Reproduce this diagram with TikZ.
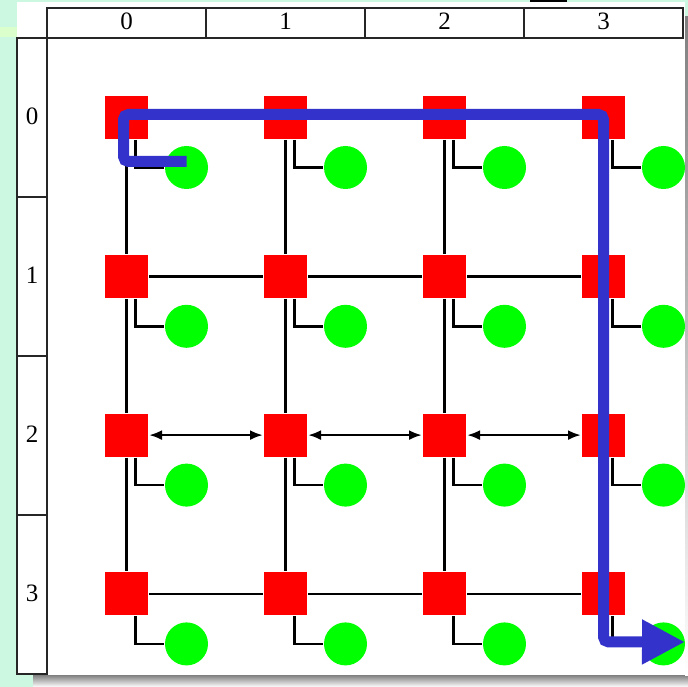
\documentclass[tikz,border=0pt]{standalone}
\usepackage{fontspec}
\setmainfont{Liberation Serif}
\usetikzlibrary{arrows.meta,calc}
\definecolor{mint}{RGB}{204,247,224}
\definecolor{lime}{RGB}{218,255,204}
\definecolor{shade}{RGB}{128,128,128}
\definecolor{rtred}{RGB}{255,0,0}
\definecolor{pegreen}{RGB}{0,255,0}
\definecolor{routeblue}{RGB}{51,51,204}
\tikzset{
  every picture/.style={x=1pt, y=-1pt, line width=2pt},
  router/.style={fill=rtred, inner sep=0pt, minimum size=43pt},
  core/.style={circle, fill=pegreen, inner sep=0pt, minimum size=43pt},
  link/.style={draw=black, line width=2.6pt},
  both/.style={link, {Latex[length=13pt,width=10pt]}-{Latex[length=13pt,width=10pt]}},
  route/.style={draw=routeblue, line width=11pt, rounded corners=5pt, -{Triangle[length=43pt,width=42pt]}},
  frame/.style={draw=black!85, line width=1.8pt},
  lbl/.style={font=\fontsize{25}{28}\selectfont, inner sep=0pt, anchor=base},
}

\begin{document}
\begin{tikzpicture}
  \useasboundingbox (0,0) rectangle (688,687);
  % slide background and shadow
  \fill[mint] (0,0) rectangle (688,687);
  \fill[lime] (0,27) rectangle (17,37);
  \fill[black] (530,0) rectangle (567,2);
  \fill[shade] (33,675) rectangle (688,687);
  \fill[shade] (685,17) rectangle (688,675);
  \fill[white] (17,2) rectangle (685,675);
  % column and row headers
  \draw[frame] (47,8) rectangle (683,38);
  \draw[frame] (17,38) rectangle (47,674);
  \foreach \k in {1,2,3} {
    \draw[frame] ({47+159*\k},8) -- ({47+159*\k},38);
    \draw[frame] (17,{38+159*\k}) -- (47,{38+159*\k});
  }
  \foreach \k in {0,...,3} {
    \node[lbl] (h-\k) at ({126.5+159*\k},30) {\k};
    \node[lbl] (v-\k) at (32,{125+158.8*\k}) {\k};
  }
  % routers and cores
  \foreach \i in {0,...,3}
    \foreach \j in {0,...,3} {
      \node[router] (r-\i-\j) at ({126.5+159*\j},{117.5+158.8*\i}) {};
      \node[core] (c-\i-\j) at ($(r-\i-\j)+(60,50)$) {};
      \draw[link] ([xshift=9pt]r-\i-\j.south) |- (c-\i-\j.west);
    }
  % mesh links
  \foreach \i/\n in {0/1,1/2,2/3}
    \foreach \j in {0,...,3}
      \draw[link] (r-\i-\j.south) -- (r-\n-\j.north);
  \foreach \j/\n in {0/1,1/2,2/3} {
    \draw[link] (r-0-\j.east) -- (r-0-\n.west);
    \draw[link] (r-1-\j.east) -- (r-1-\n.west);
    \draw[both] (r-2-\j.east) -- (r-2-\n.west);
    \draw[link] (r-3-\j.east) -- (r-3-\n.west);
  }
  % packet route
  \coordinate (src) at ($(c-0-0)+(0,-6)$);
  \coordinate (dst) at (685,642);
  \draw[route] (src) -| ($(r-0-0)+(-3,-3)$) -| ($(r-3-3)+(0,48)$) -- (dst);
\end{tikzpicture}
\end{document}
